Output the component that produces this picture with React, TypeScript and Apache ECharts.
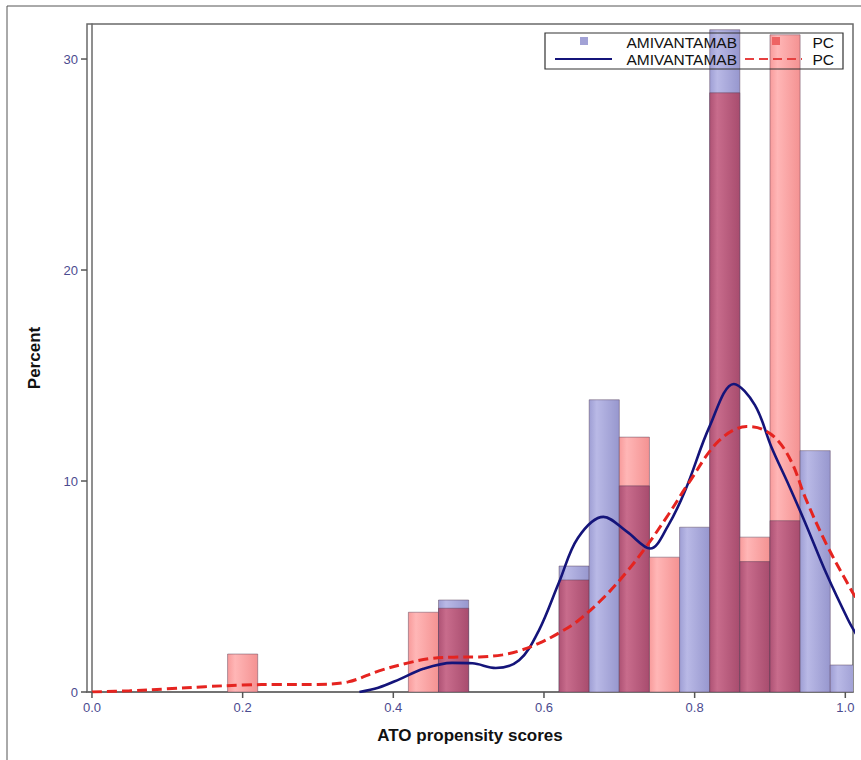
import React, { useEffect, useRef } from "react";
import * as echarts from "echarts";

// Histogram bins (ATO propensity score), width 0.04
const binStarts = [0.18, 0.42, 0.46, 0.62, 0.66, 0.70, 0.74, 0.78, 0.82, 0.86, 0.90, 0.94, 0.98];
const binWidth = 0.04;
const amiPercent = [0, 0, 4.36, 5.97, 13.85, 9.77, 0, 7.81, 31.39, 6.18, 8.12, 11.44, 1.28];
const pcPercent = [1.8, 3.78, 3.97, 5.31, 0, 12.08, 6.39, 0, 28.4, 7.34, 31.15, 0, 0];

// Kernel density curves
const amiDensity: [number, number][] = [
  [0.355, 0], [0.38, 0.2], [0.408, 0.6], [0.44, 1.1], [0.478, 1.38], [0.505, 1.36],
  [0.536, 1.14], [0.567, 1.5], [0.593, 2.9], [0.62, 5.2], [0.645, 7.3], [0.679, 8.3],
  [0.71, 7.6], [0.741, 6.8], [0.765, 7.9], [0.788, 9.6], [0.82, 12.6], [0.852, 14.6],
  [0.88, 13.6], [0.902, 11.6], [0.925, 9.8], [0.947, 8.0], [0.975, 5.6], [1.004, 3.4], [1.015, 2.7],
];
const pcDensity: [number, number][] = [
  [0, 0], [0.05, 0.06], [0.1, 0.15], [0.15, 0.25], [0.2, 0.33], [0.25, 0.36], [0.3, 0.36],
  [0.34, 0.48], [0.381, 1.0], [0.42, 1.38], [0.448, 1.58], [0.48, 1.65], [0.514, 1.66],
  [0.545, 1.76], [0.567, 1.95], [0.593, 2.3], [0.62, 2.8], [0.646, 3.4], [0.68, 4.5],
  [0.71, 5.7], [0.735, 6.85], [0.765, 8.4], [0.792, 9.9], [0.832, 11.9], [0.869, 12.58],
  [0.89, 12.45], [0.911, 11.9], [0.93, 10.8], [0.947, 9.2], [0.975, 7.0], [1.006, 4.95], [1.015, 4.4],
];

const xTicks = [0, 0.2, 0.4, 0.6, 0.8, 1.0];
const yTicks = [0, 10, 20, 30];

const amiName = "AMIVANTAMAB";
const pcName = "PC";

const X_MIN = -0.0066;
const X_MAX = 1.0102;

export default function App() {
  const ref = useRef<HTMLDivElement>(null);

  useEffect(() => {
    if (!ref.current) return;
    const chart = echarts.init(ref.current, undefined, { renderer: "svg" });

    const grad = (a: string, b: string, c: string) =>
      new echarts.graphic.LinearGradient(0, 0, 1, 0, [
        { offset: 0, color: a },
        { offset: 0.25, color: b },
        { offset: 1, color: c },
      ]);
    const amiFill = grad("#9E9ED4", "#B9B9E6", "#9797CE");
    const pcFill = grad("#F89B9B", "#FFB6B6", "#F49292");
    const overFill = grad("#AE5274", "#C86C8C", "#A84C6E");

    const barData = binStarts.map((s, i) => [s, s + binWidth, amiPercent[i], pcPercent[i]]);

    const labelColor = "#4B4B8F";
    const font = '"Liberation Sans", Arial, sans-serif';
    const legendFont = `15.5px ${font}`;

    const txt = (text: string, x: number, y: number) => ({
      type: "text",
      z: 10,
      style: {
        text, x, y, align: "right", verticalAlign: "middle",
        textAlign: "right", textVerticalAlign: "middle",
        font: legendFont, fill: "#111",
      },
    });

    const baseGraphics: any[] = [
      {
        type: "rect",
        id: "outer",
        z: 0,
        shape: { x: 7, y: 6, width: 900, height: 800 },
        style: { fill: "none", stroke: "#555", lineWidth: 1 },
      },
      {
        type: "group",
        id: "legend",
        z: 10,
        children: [
          {
            type: "rect",
            z: 10,
            shape: { x: 545, y: 33, width: 298, height: 36 },
            style: { fill: "none", stroke: "#333", lineWidth: 1.2 },
          },
          { type: "rect", z: 10, shape: { x: 580, y: 37, width: 8, height: 8 }, style: { fill: "#A2A2D6" } },
          txt(amiName, 737, 42),
          { type: "rect", z: 10, shape: { x: 772, y: 37, width: 8, height: 8 }, style: { fill: "#EE6464" } },
          txt(pcName, 834, 42),
          {
            type: "line",
            z: 10,
            shape: { x1: 555, y1: 59, x2: 612, y2: 59 },
            style: { stroke: "#14147A", lineWidth: 2 },
          },
          txt(amiName, 737, 59),
          {
            type: "line",
            z: 10,
            shape: { x1: 745, y1: 59, x2: 802, y2: 59 },
            style: { stroke: "#E64040", lineWidth: 2, lineDash: [9, 5] },
          },
          txt(pcName, 834, 59),
        ],
      },
    ];

    chart.setOption({
      animation: false,
      backgroundColor: "#ffffff",
      grid: {
        left: 87,
        right: 8,
        top: 24,
        bottom: 68,
        show: true,
        borderColor: "#6a6a6a",
        borderWidth: 1.5,
        containLabel: false,
      },
      xAxis: {
        type: "value",
        min: X_MIN,
        max: X_MAX,
        name: "ATO propensity scores",
        nameLocation: "middle",
        nameGap: 35,
        nameTextStyle: { fontFamily: font, fontSize: 17, fontWeight: "bold", color: "#111" },
        axisLine: { show: true, lineStyle: { color: "#6a6a6a", width: 1.5 } },
        axisTick: { show: false },
        axisLabel: {
          customValues: xTicks,
          formatter: (v: number) => v.toFixed(1),
          color: labelColor,
          fontFamily: font,
          fontSize: 13,
          margin: 9,
        },
        splitLine: { show: false },
      },
      yAxis: {
        type: "value",
        min: 0,
        max: 31.66,
        interval: 10,
        name: "Percent",
        nameLocation: "middle",
        nameGap: 44,
        nameTextStyle: { fontFamily: font, fontSize: 17, fontWeight: "bold", color: "#111" },
        axisLine: { show: true, lineStyle: { color: "#6a6a6a", width: 1.5 } },
        axisTick: { show: false },
        axisLabel: {
          customValues: yTicks,
          color: labelColor,
          fontFamily: font,
          fontSize: 13,
          margin: 9,
        },
        splitLine: { show: false },
      },
      graphic: baseGraphics,
      series: [
        {
          type: "custom",
          name: "bars",
          z: 2,
          clip: true,
          data: barData,
          encode: { x: [0, 1], y: [2, 3] },
          renderItem: (params: any, api: any) => {
            const x0 = api.value(0);
            const x1 = api.value(1);
            const a = api.value(2);
            const p = api.value(3);
            const base = api.coord([x0, 0]);
            const right = api.coord([x1, 0]);
            const mk = (h: number, fill: any) => {
              const top = api.coord([x0, h]);
              return {
                type: "rect",
                shape: { x: base[0], y: top[1], width: right[0] - base[0], height: base[1] - top[1] },
                style: { fill, stroke: "rgba(85,60,85,0.45)", lineWidth: 1 },
              };
            };
            const children: any[] = [];
            if (a >= p) {
              if (a > 0) children.push(mk(a, amiFill));
            } else {
              children.push(mk(p, pcFill));
            }
            const m = Math.min(a, p);
            if (m > 0) children.push(mk(m, overFill));
            return { type: "group", children };
          },
        },
        {
          type: "line",
          name: "amiDensity",
          z: 3,
          data: amiDensity,
          smooth: 0.35,
          showSymbol: false,
          clip: true,
          lineStyle: { color: "#14147A", width: 2.6 },
        },
        {
          type: "line",
          name: "pcDensity",
          z: 4,
          data: pcDensity,
          smooth: 0.35,
          showSymbol: false,
          clip: true,
          lineStyle: { color: "#E52420", width: 3, type: [10, 5] },
        },
      ],
    });

    // Tick marks placed through the chart's own scales
    const tickGraphics: any[] = [];
    xTicks.forEach((v, i) => {
      const pt = chart.convertToPixel({ gridIndex: 0 }, [v, 0]) as number[];
      tickGraphics.push({
        type: "line",
        id: "xt" + i,
        z: 5,
        shape: { x1: pt[0], y1: pt[1], x2: pt[0], y2: pt[1] + 6 },
        style: { stroke: "#555", lineWidth: 1.5 },
      });
    });
    yTicks.forEach((v, i) => {
      const pt = chart.convertToPixel({ gridIndex: 0 }, [X_MIN, v]) as number[];
      tickGraphics.push({
        type: "line",
        id: "yt" + i,
        z: 5,
        shape: { x1: pt[0] - 6, y1: pt[1], x2: pt[0], y2: pt[1] },
        style: { stroke: "#555", lineWidth: 1.5 },
      });
    });
    chart.setOption({ graphic: [...baseGraphics, ...tickGraphics] });

    return () => chart.dispose();
  }, []);

  return (
    <div
      ref={ref}
      style={{ position: "fixed", left: 0, top: 0, width: 861, height: 760, background: "#fff" }}
    />
  );
}
